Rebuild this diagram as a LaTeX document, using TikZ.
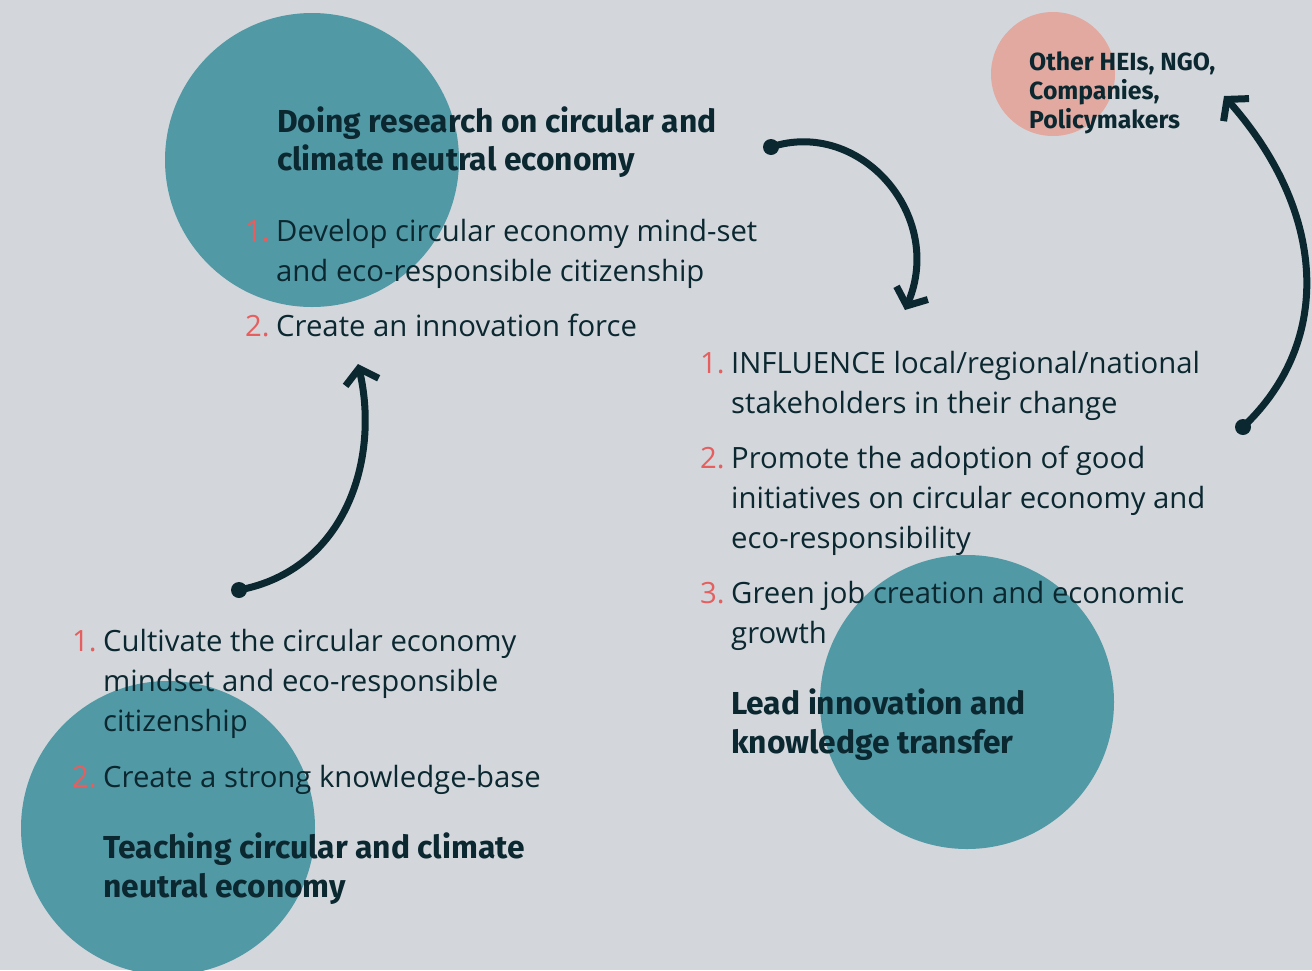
\documentclass[tikz,border=0pt]{standalone}
\usepackage{fontspec}
\setmainfont{Open Sans}
\newfontfamily\headfont{Fira Sans}
\usetikzlibrary{arrows.meta}
\definecolor{bg}{HTML}{D3D7DC}
\definecolor{tealc}{HTML}{5299A6}
\definecolor{pinkc}{HTML}{E2A9A1}
\definecolor{darkc}{HTML}{0B2730}
\definecolor{numc}{HTML}{E65E5E}
\tikzset{
  blob/.style={shape=circle,fill=#1,inner sep=0pt,minimum size=294pt},
  txt/.style={anchor=base west,inner sep=0pt,text=darkc,font=\fontsize{29.3}{40}\selectfont},
  num/.style={anchor=base west,inner sep=0pt,text=numc,font=\fontsize{29.3}{40}\selectfont},
  head/.style={anchor=base west,inner sep=0pt,text=darkc,font=\headfont\bfseries\fontsize{31.8}{38}\selectfont},
  small/.style={anchor=base west,inner sep=0pt,text=darkc,font=\headfont\bfseries\fontsize{24.8}{29}\selectfont},
  flow/.style={line width=7pt,draw=darkc,-{Straight Barb[length=14pt,width=34pt]}},
  dot/.style={fill=darkc}
}
\begin{document}
\begin{tikzpicture}[x=1pt,y=-1pt]
\fill[bg] (0,0) rectangle (1312,970);
\useasboundingbox (0,0) rectangle (1312,970);
\begin{scope}
\clip (0,0) rectangle (1312,970);
\node[blob=tealc] (c1) at (312,160) {};
\node[blob=tealc] (c2) at (168,828) {};
\node[blob=tealc] (c3) at (967,702) {};
\node[blob=pinkc,minimum size=124pt] (c4) at (1053,74) {};
\end{scope}

% top-left
\node[head] (h1a) at (277,132) {Doing research on circular and};
\node[head] (h1b) at (277,170) {climate neutral economy};
\node[num] (n1a) at (245,241) {1.};
\node[txt] (t1a) at (276,241) {Develop circular economy mind-set};
\node[txt] (t1b) at (276,281) {and eco-responsible citizenship};
\node[num] (n1b) at (245,336) {2.};
\node[txt] (t1c) at (276,336) {Create an innovation force};

% right
\node[num] (n2a) at (700,373) {1.};
\node[txt] (t2a) at (731,373) {INFLUENCE local/regional/national};
\node[txt] (t2b) at (731,413) {stakeholders in their change};
\node[num] (n2b) at (700,468) {2.};
\node[txt] (t2c) at (731,468) {Promote the adoption of good};
\node[txt] (t2d) at (731,508) {initiatives on circular economy and};
\node[txt] (t2e) at (731,548) {eco-responsibility};
\node[num] (n2c) at (700,603) {3.};
\node[txt] (t2f) at (731,603) {Green job creation and economic};
\node[txt] (t2g) at (731,643) {growth};
\node[head] (h2a) at (731,714) {Lead innovation and};
\node[head] (h2b) at (731,753) {knowledge transfer};

% bottom-left
\node[num] (n3a) at (72,651) {1.};
\node[txt] (t3a) at (103,651) {Cultivate the circular economy};
\node[txt] (t3b) at (103,691) {mindset and eco-responsible};
\node[txt] (t3c) at (103,731) {citizenship};
\node[num] (n3b) at (72,787) {2.};
\node[txt] (t3d) at (103,787) {Create a strong knowledge-base};
\node[head] (h3a) at (103,858) {Teaching circular and climate};
\node[head] (h3b) at (103,897) {neutral economy};

% pink
\node[small] (p1) at (1029,70) {Other HEIs, NGO,};
\node[small] (p2) at (1029,99) {Companies,};
\node[small] (p3) at (1029,128) {Policymakers};

% arrows
\coordinate (a1s) at (771,147);
\coordinate (a1e) at (905,310);
\coordinate (a2s) at (239,590);
\coordinate (a2e) at (358,364);
\coordinate (a3s) at (1243,427);
\coordinate (a3e) at (1224,96);
\draw[flow] (a1s) .. controls (860,118) and (945,215) .. (a1e);
\draw[flow] (a2s) .. controls (345,570) and (380,460) .. (a2e);
\draw[flow] (a3s) .. controls (1335,340) and (1325,210) .. (a3e);
\fill[dot] (a1s) circle[radius=8pt];
\fill[dot] (a2s) circle[radius=8pt];
\fill[dot] (a3s) circle[radius=8pt];
\end{tikzpicture}
\end{document}
